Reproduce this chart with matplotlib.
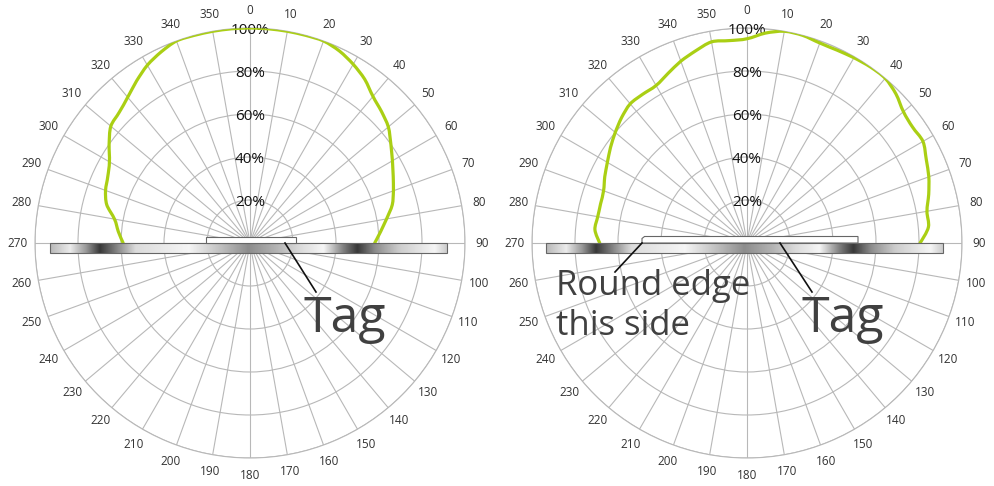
import numpy as np
import matplotlib
matplotlib.use("Agg")
import matplotlib.pyplot as plt
from matplotlib.patches import Rectangle, Polygon, PathPatch
from matplotlib.path import Path

plt.rcParams['font.family'] = ['Open Sans', 'DejaVu Sans']

# Messwerte: Winkel (Grad) von 270 ueber 0 bis 90, relative Intensitaet
winkel = list(range(-90, 95, 5))
links = [0.59, 0.615, 0.64, 0.69, 0.715, 0.73, 0.755, 0.80, 0.845, 0.86,
         0.885, 0.92, 0.955, 0.98, 1.0, 1.0, 1.0, 1.0,
         1.0,
         1.0, 1.0, 1.0, 1.0, 0.985, 0.96, 0.93, 0.89, 0.865, 0.84,
         0.80, 0.765, 0.735, 0.71, 0.685, 0.645, 0.61, 0.58]
rechts = [0.685, 0.71, 0.705, 0.705, 0.71, 0.73, 0.75, 0.775, 0.80, 0.825,
          0.845, 0.845, 0.846, 0.87, 0.90, 0.925, 0.95, 0.945,
          0.95,
          0.98, 1.0, 1.0, 0.99, 0.99, 0.995, 1.0, 1.0, 0.98, 0.95,
          0.94, 0.945, 0.92, 0.90, 0.875, 0.85, 0.847, 0.805]

winkel_ticks = list(range(0, 360, 10))
ring_werte = [0.2, 0.4, 0.6, 0.8, 1.0]
ring_texte = ["20%", "40%", "60%", "80%", "100%"]

gruen = '#aacf14'
gitter = '#b8b8b8'

W, H = 994, 486
fig = plt.figure(figsize=(W / 100, H / 100), dpi=100)


def glatte_linie(theta, r):
    # geglaettete Linie wie in Excel: Bezier-Segmente durch die Messpunkte
    p = np.column_stack([theta, r])
    p_ext = np.vstack([p[0], p, p[-1]])
    verts = [p[0]]
    codes = [Path.MOVETO]
    for i in range(len(p) - 1):
        a, b, c, d = p_ext[i], p_ext[i + 1], p_ext[i + 2], p_ext[i + 3]
        verts += [b + (c - a) / 6, c - (d - b) / 6, c]
        codes += [Path.CURVE4] * 3
    return Path(verts, codes)


def polar_achse(left_px, werte):
    ax = fig.add_axes([left_px / W, 28 / H, 430 / W, 430 / H], polar=True)
    ax.set_theta_zero_location('N')
    ax.set_theta_direction(-1)
    ax.set_ylim(0, 1)
    ax.set_xticks(np.deg2rad(winkel_ticks))
    ax.set_xticklabels([str(w) for w in winkel_ticks], fontsize=8.5, color='#333333')
    ax.tick_params(axis='x', pad=2)
    ax.set_yticks(ring_werte)
    ax.set_yticklabels([])
    ax.grid(True, color=gitter, linewidth=0.8)
    ax.spines['polar'].set_color(gitter)
    ax.spines['polar'].set_linewidth(0.8)
    for r, t in zip(ring_werte, ring_texte):
        ax.text(0, r - 0.01, t, ha='center', va='center', fontsize=11, color='#111111')
    pfad = glatte_linie(np.deg2rad(winkel), np.array(werte))
    ax.add_patch(PathPatch(pfad, facecolor='none', edgecolor=gruen, linewidth=2.3,
                           joinstyle='round', capstyle='round', zorder=3))
    return ax


ax1 = polar_achse(35, links)
ax2 = polar_achse(532, rechts)

# Overlay in Pixelkoordinaten fuer Leiste, Tag und Beschriftung
ov = fig.add_axes([0, 0, 1, 1], zorder=5)
ov.set_xlim(0, W)
ov.set_ylim(H, 0)
ov.axis('off')
ov.patch.set_alpha(0)

pos = [0.0, 0.05, 0.09, 0.125, 0.165, 0.215, 0.35, 0.43, 0.5, 0.57, 0.63,
       0.69, 0.74, 0.775, 0.82, 0.88, 0.97, 1.0]
grau = [0.72, 0.92, 0.6, 0.22, 0.5, 0.86, 0.96, 0.75, 0.55, 0.7, 0.86,
        0.96, 0.5, 0.22, 0.55, 0.8, 0.96, 0.8]
xs = np.linspace(0, 1, 400)
verlauf = np.tile(np.interp(xs, pos, grau), (6, 1))

for x0, x1 in [(50, 447), (546, 943)]:
    ov.imshow(verlauf, cmap='gray', vmin=0, vmax=1, aspect='auto',
              extent=(x0, x1, 253, 243), interpolation='bilinear', zorder=2)
    ov.add_patch(Rectangle((x0, 243), x1 - x0, 10, fill=False,
                           edgecolor='#666666', linewidth=0.8, zorder=3))

# kleines Tag oben auf der Leiste
ov.add_patch(Rectangle((206, 237), 90, 6, facecolor='white',
                       edgecolor='#666666', linewidth=0.8, zorder=3))
ov.add_patch(Polygon([(642, 243), (642, 238.5), (644.5, 236.5), (858, 236.5), (858, 243)],
                     closed=True, facecolor='white', edgecolor='#666666',
                     linewidth=0.8, zorder=3))

# Hinweislinien und Texte
ov.plot([285, 316], [243, 292], color='#111111', linewidth=1.2, zorder=4)
ov.plot([780, 812], [243, 292], color='#111111', linewidth=1.2, zorder=4)
ov.plot([642, 615], [243, 272], color='#111111', linewidth=1.2, zorder=4)

ov.text(304, 332, "Tag", fontsize=36, color='#404040', ha='left', va='baseline', zorder=4)
ov.text(801, 332, "Tag", fontsize=36, color='#404040', ha='left', va='baseline', zorder=4)
ov.text(556, 269, "Round edge\nthis side", fontsize=25, color='#404040',
        ha='left', va='top', linespacing=1.24, zorder=4)

fig.savefig("out.png", dpi=100)
